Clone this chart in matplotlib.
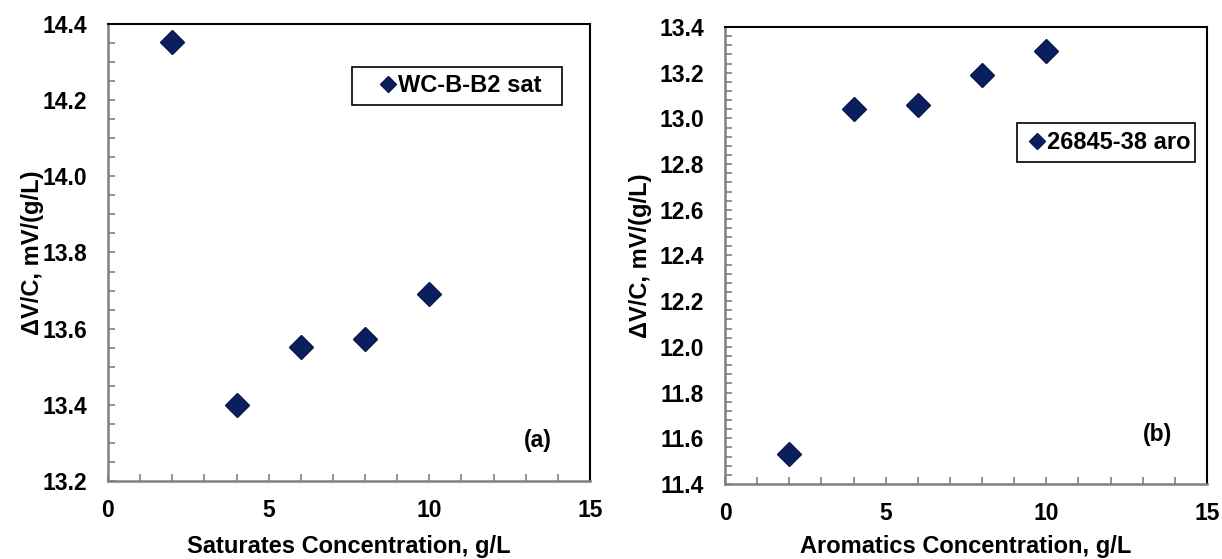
import matplotlib
matplotlib.use("Agg")
import matplotlib.pyplot as plt
from matplotlib.ticker import MultipleLocator, FormatStrFormatter
from matplotlib.patches import Rectangle

plt.rcParams['font.family'] = ['Liberation Sans', 'DejaVu Sans']
plt.rcParams['font.weight'] = 'bold'

# Data
sat_conc = [2, 4, 6, 8, 10]
sat_vals = [14.353, 13.400, 13.551, 13.573, 13.691]
aro_conc = [2, 4, 6, 8, 10]
aro_vals = [11.532, 13.042, 13.057, 13.188, 13.296]

sat_label = "WC-B-B2 sat"
aro_label = "26845-38 aro"
xlabel_a = "Saturates Concentration, g/L"
xlabel_b = "Aromatics Concentration, g/L"
ylabel = "ΔV/C, mV/(g/L)"

marker_color = '#0b1f5e'
fs = 16.5
W, H = 1222, 559

fig = plt.figure(figsize=(W / 100, H / 100), dpi=100)

def px_axes(x0, x1, y0, y1):
    return fig.add_axes([x0 / W, 1 - y1 / H, (x1 - x0) / W, (y1 - y0) / H])

ax1 = px_axes(108, 590, 24, 481)
ax2 = px_axes(725, 1207, 27, 484)

def style(ax, ylim, ymaj, ymin, xl, lab, leg_anchor, box, tag, tag_pos, ylab_x, xlpad):
    ax.set_xlim(0, 15)
    ax.set_ylim(*ylim)
    ax.xaxis.set_major_locator(MultipleLocator(5))
    ax.xaxis.set_minor_locator(MultipleLocator(1))
    ax.yaxis.set_major_locator(MultipleLocator(ymaj))
    ax.yaxis.set_minor_locator(MultipleLocator(ymin))
    ax.yaxis.set_major_formatter(FormatStrFormatter('%.1f'))
    ax.tick_params(which='both', direction='in', length=5, width=1.2, color='#808080')
    ax.tick_params(axis='y', which='major', pad=15, labelsize=fs)
    ax.tick_params(axis='x', which='major', pad=13, labelsize=fs)
    for s in ['left', 'bottom']:
        ax.spines[s].set_color('#808080')
        ax.spines[s].set_linewidth(1.8)
    for s in ['top', 'right']:
        ax.spines[s].set_color('black')
        ax.spines[s].set_linewidth(1.5)
    ax.set_xlabel(xl, fontsize=17, fontweight='bold', labelpad=xlpad)
    ax.set_ylabel(ylabel, fontsize=17, fontweight='bold')
    ax.yaxis.set_label_coords(ylab_x, 0.5)
    leg = ax.legend(loc='center left', bbox_to_anchor=leg_anchor, borderaxespad=0,
                    frameon=False, prop={'size': 17, 'weight': 'bold'},
                    handlelength=0.6, handletextpad=0.1, borderpad=0, markerscale=0.68)
    ax.add_patch(Rectangle((box[0], box[2]), box[1] - box[0], box[3] - box[2],
                           transform=ax.transAxes, fill=True, facecolor='white',
                           edgecolor='black', linewidth=1.2, zorder=4))
    leg.set_zorder(5)
    ax.text(tag_pos[0], tag_pos[1], tag, transform=ax.transAxes, ha='center', va='center',
            fontsize=fs, fontweight='bold')

ax1.plot(sat_conc, sat_vals, linestyle='none', marker='D', markersize=12,
         color=marker_color, markeredgecolor='#081848', label=sat_label)
ax2.plot(aro_conc, aro_vals, linestyle='none', marker='D', markersize=12,
         color=marker_color, markeredgecolor='#081848', label=aro_label)

# legend anchors / boxes in axes fractions (layout)
style(ax1, (13.2, 14.4), 0.2, 0.05, xlabel_a, sat_label,
      ((381 - 108) / 482, 1 - (86 - 24) / 457),
      ((352 - 108) / 482, (562 - 108) / 482, 1 - (105 - 24) / 457, 1 - (67 - 24) / 457),
      '(a)', ((537.5 - 108) / 482, 1 - (441 - 24) / 457), (44 - 108) / 482, 9)
style(ax2, (11.4, 13.4), 0.2, 0.04, xlabel_b, aro_label,
      ((1030 - 725) / 482, 1 - (142.5 - 27) / 457),
      ((1017 - 725) / 482, (1195 - 725) / 482, 1 - (162 - 27) / 457, 1 - (123 - 27) / 457),
      '(b)', ((1157 - 725) / 482, 1 - (434 - 27) / 457), (652 - 725) / 482, 7)

fig.savefig('out.png', dpi=100)
